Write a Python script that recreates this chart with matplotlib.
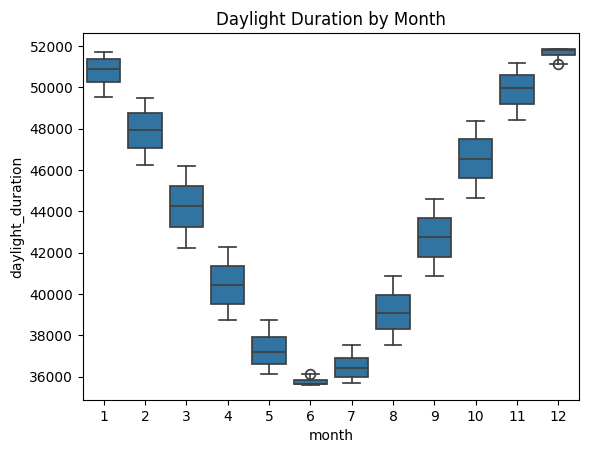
import matplotlib
matplotlib.use("Agg")
import matplotlib.pyplot as plt

months = [1, 2, 3, 4, 5, 6, 7, 8, 9, 10, 11, 12]
whislo = [49517, 46226, 42223, 38738, 36159, 35620, 35723, 37563, 40868, 44628, 48418, 51150]
q1 = [50243, 47049, 43240, 39547, 36643, 35650, 35980, 38308, 41788, 45611, 49193, 51560]
med = [50872, 47920, 44242, 40418, 37224, 35675, 36416, 39098, 42756, 46516, 49953, 51800]
q3 = [51356, 48743, 45224, 41352, 37947, 35850, 36934, 39953, 43675, 47499, 50597, 51840]
whishi = [51695, 49469, 46177, 42272, 38738, 36130, 37563, 40888, 44580, 48370, 51163, 51860]
fliers = [[], [], [], [], [], [36160], [], [], [], [], [], [51140]]

stats = []
for i in range(len(months)):
    stats.append(dict(whislo=whislo[i], q1=q1[i], med=med[i], q3=q3[i],
                      whishi=whishi[i], fliers=fliers[i], label=str(months[i])))

fig = plt.figure(figsize=(5.89, 4.55), dpi=100)
ax = fig.add_axes([83/589, 1 - 400/455, (579-83)/589, (400-33)/455])

lc = "#3f3f3f"
lw = 1.25
ax.bxp(stats, positions=range(len(months)), widths=0.8, patch_artist=True,
       capwidths=0.4,
       boxprops=dict(facecolor="#3274a1", edgecolor=lc, linewidth=lw),
       medianprops=dict(color=lc, linewidth=lw),
       whiskerprops=dict(color=lc, linewidth=lw),
       capprops=dict(color=lc, linewidth=lw),
       flierprops=dict(marker="o", markerfacecolor="none", markeredgecolor=lc,
                       markersize=7, markeredgewidth=lw))

ax.set_xlim(-0.5, len(months) - 0.5)
ax.set_ylim(34880, 52630)
ax.set_xticks(range(len(months)))
ax.set_xticklabels([str(m) for m in months])
ax.set_title("Daylight Duration by Month")
ax.set_xlabel("month")
ax.set_ylabel("daylight_duration")

fig.savefig("out.png", dpi=100)
